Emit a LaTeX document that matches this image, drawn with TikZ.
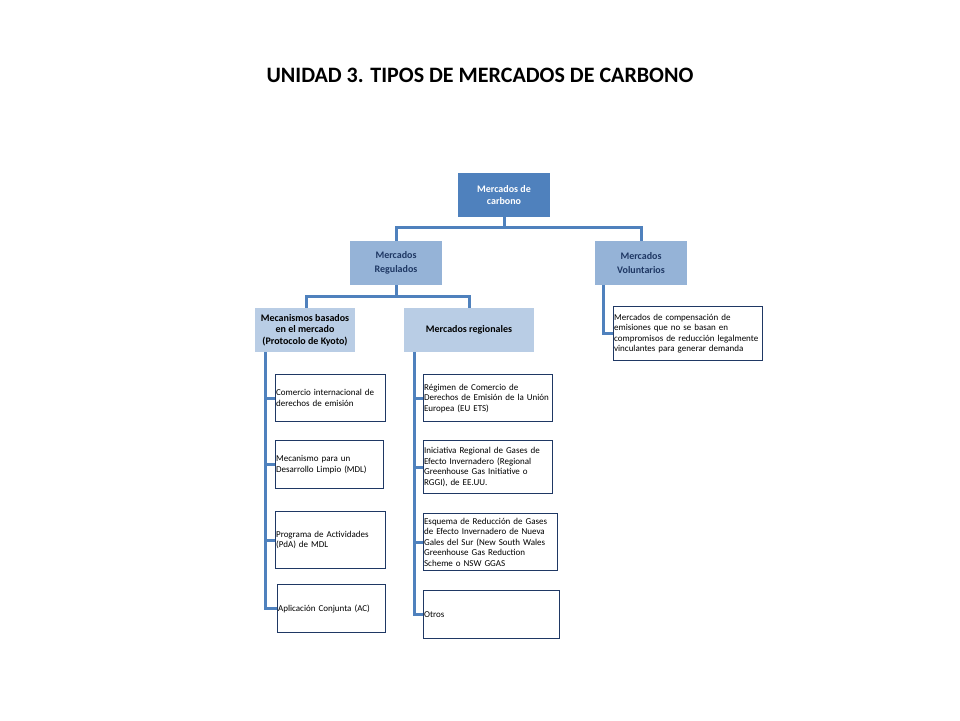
\documentclass[tikz,border=0pt]{standalone}
\usepackage{fontspec}
\setmainfont{Carlito}
\usetikzlibrary{positioning}
\definecolor{darkblue}{HTML}{4F81BD}
\definecolor{midblue}{HTML}{95B3D7}
\definecolor{lightblue}{HTML}{B9CDE5}
\definecolor{boxline}{HTML}{1F3864}
\tikzset{
  topbox/.style = {draw=none, fill=darkblue, text=white, font=\fontsize{10}{12}\selectfont\bfseries,
    align=center, inner sep=0pt},
  midbox/.style = {draw=none, fill=midblue, text=boxline, font=\fontsize{10}{14}\selectfont\bfseries,
    align=center, inner sep=0pt},
  lowbox/.style = {draw=none, fill=lightblue, text=black, font=\fontsize{10}{11.5}\selectfont\bfseries,
    align=center, inner sep=0pt},
  leafbox/.style = {draw=boxline, line width=1.2pt, fill=white, font=\fontsize{9}{10.5}\selectfont,
    align=left, inner xsep=0.5pt, inner ysep=1pt, anchor=north west},
  link/.style = {draw=darkblue, line width=3pt}
}
\begin{document}
\begin{tikzpicture}[x=1pt,y=-1pt]
\useasboundingbox (0,0) rectangle (960,720);
\node[font=\fontsize{22}{26}\selectfont\bfseries] (title) at (480,75) {UNIDAD 3. TIPOS DE MERCADOS DE CARBONO};
% niveles superiores
\node[topbox, minimum width=92pt, minimum height=44pt] (carbono) at (504,195) {Mercados de\\carbono};
\node[midbox, minimum width=92pt, minimum height=44pt] (regulados) at (396,263) {Mercados\\Regulados};
\node[midbox, minimum width=92pt, minimum height=44pt] (voluntarios) at (641,263) {Mercados\\Voluntarios};
\node[lowbox, minimum width=100pt, minimum height=44pt] (kyoto) at (305,330) {Mecanismos basados\\en el mercado\\(Protocolo de Kyoto)};
\node[lowbox, minimum width=130pt, minimum height=44pt] (regionales) at (469,330) {Mercados regionales};
% hojas
\node[leafbox, minimum height=54pt, text width=148pt] (compensacion) at (613,306) {Mercados de compensación de\\emisiones que no se basan en\\compromisos de reducción legalmente\\vinculantes para generar demanda};
\node[leafbox, minimum height=47pt, text width=109pt] (comercio) at (275,374) {Comercio internacional de\\derechos de emisión};
\node[leafbox, minimum height=48pt, text width=107pt] (mdl) at (275,440) {Mecanismo para un\\Desarrollo Limpio (MDL)};
\node[leafbox, minimum height=57pt, text width=109pt] (pda) at (275,511) {Programa de Actividades\\(PdA) de MDL};
\node[leafbox, minimum height=48pt, text width=107pt] (ac) at (277,584) {Aplicación Conjunta (AC)};
\node[leafbox, minimum height=47pt, text width=128pt] (euets) at (423,374) {Régimen de Comercio de\\Derechos de Emisión de la Unión\\Europea (EU ETS)};
\node[leafbox, minimum height=53pt, text width=128pt] (rggi) at (423,440) {Iniciativa Regional de Gases de\\Efecto Invernadero (Regional\\Greenhouse Gas Initiative o\\RGGI), de EE.UU.};
\node[leafbox, minimum height=57pt, text width=133pt] (nsw) at (423,513) {Esquema de Reducción de Gases\\de Efecto Invernadero de Nueva\\Gales del Sur (New South Wales\\Greenhouse Gas Reduction\\Scheme o NSW GGAS};
\node[leafbox, minimum height=48pt, text width=135pt] (otros) at (423,590) {Otros};
% conectores
\coordinate (c1) at (504,227);
\coordinate (c2) at (396,296);
\path[link] (carbono.south) -- (c1) -| (regulados.north);
\path[link] (c1) -| (voluntarios.north);
\path[link] (regulados.south) -- (c2) -| (kyoto.north -| 306,0);
\path[link] (c2) -| (regionales.north);
\path[link] (voluntarios.south -| 603,0) |- (compensacion.west);
\foreach \leaf in {comercio,mdl,pda,ac}
  \path[link] (kyoto.south -| 265,0) |- (\leaf.west);
\foreach \leaf in {euets,rggi,nsw,otros}
  \path[link] (regionales.south -| 414,0) |- (\leaf.west);
\end{tikzpicture}
\end{document}
